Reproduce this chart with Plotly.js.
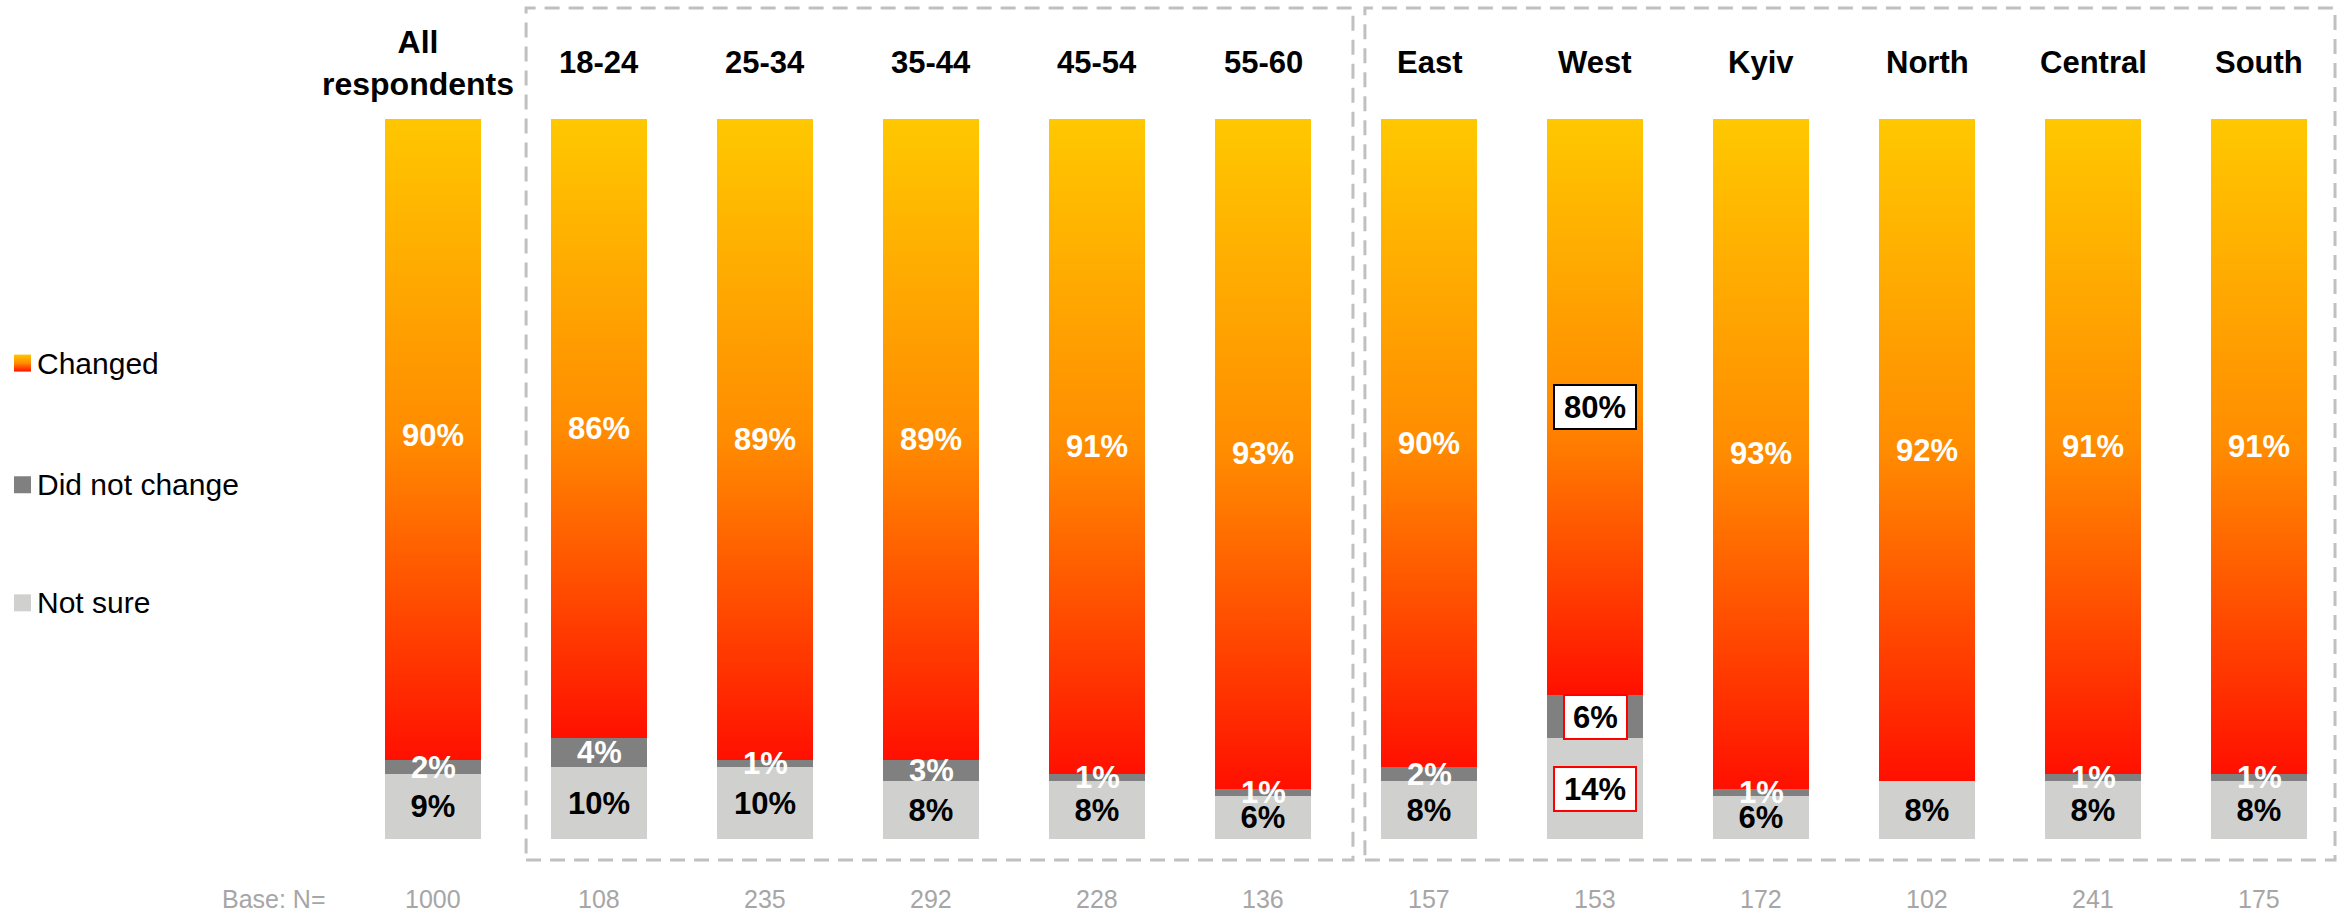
<!DOCTYPE html>
<html>
<head>
<meta charset="utf-8">
<script src="https://cdn.plot.ly/plotly-3.0.1.min.js"></script>
<style>
  html, body { margin: 0; padding: 0; background: #fff; }
  #chart { width: 2351px; height: 914px; }
</style>
</head>
<body>
<div id="chart"></div>
<script>
// Values.
const groups = ['All respondents', '18-24', '25-34', '35-44', '45-54', '55-60',
                'East', 'West', 'Kyiv', 'North', 'Central', 'South'];
const headers = ['All<br>respondents', '18-24', '25-34', '35-44', '45-54', '55-60',
                 'East', 'West', 'Kyiv', 'North', 'Central', 'South'];
const changed = [90, 86, 89, 89, 91, 93, 90, 80, 93, 92, 91, 91];
const didNotChange = [2, 4, 1, 3, 1, 1, 2, 6, 1, 0, 1, 1];
const notSure = [9, 10, 10, 8, 8, 6, 8, 14, 6, 8, 8, 8];
const baseN = [1000, 108, 235, 292, 228, 136, 157, 153, 172, 102, 241, 175];
const highlighted = 'West';

const FONT = 'Liberation Sans, Arial, sans-serif';
const LBL = 31;
const COLORS = { 'Changed': '#ff8c00', 'Did not change': '#808080', 'Not sure': '#d0d1ce' };

function pct(v) { return v ? v + '%' : ''; }

// labels of the highlighted bar are drawn as boxed annotations instead
function barText(vals) {
  return vals.map((v, i) => groups[i] === highlighted ? '' : pct(v));
}

function barTrace(name, vals, textColor) {
  return {
    type: 'bar',
    name: name,
    x: groups,
    y: vals,
    marker: { color: COLORS[name], line: { width: 0 } },
    text: textColor ? barText(vals) : null,
    textposition: textColor ? 'inside' : 'none',
    insidetextanchor: 'middle',
    textangle: 0,
    constraintext: 'none',
    textfont: { family: FONT, size: LBL, color: textColor, weight: 'bold' },
    hoverinfo: 'skip',
    showlegend: false,
  };
}

const traces = [
  barTrace('Not sure', notSure, '#000'),
  barTrace('Did not change', didNotChange, null),
  barTrace('Changed', changed, '#fff'),
];

const annotations = [];
const shapes = [];

// legend drawn by hand so it can sit right at the left edge
['Changed', 'Did not change', 'Not sure'].forEach((name, k) => {
  const y = [0.661, 0.492, 0.328][k];
  shapes.push({
    type: 'rect', xref: 'paper', yref: 'paper',
    xsizemode: 'pixel', ysizemode: 'pixel',
    xanchor: -0.1644, yanchor: y, x0: -8.5, x1: 8.5, y0: -8.5, y1: 8.5,
    fillcolor: COLORS[name], line: { width: 0 },
  });
  annotations.push({
    x: -0.158, xref: 'paper', xanchor: 'left', y: y, yref: 'paper', yanchor: 'middle',
    text: name, showarrow: false,
    font: { family: FONT, size: 30, color: '#000' },
  });
});

// column headers
headers.forEach((h, i) => {
  const twoLines = h.indexOf('<br>') >= 0;
  annotations.push({
    x: groups[i], xref: 'x', y: 1.078, yref: 'paper', yanchor: 'middle',
    xshift: twoLines ? -15 : 0,
    text: h, showarrow: false,
    font: { family: FONT, size: twoLines ? 32 : LBL, color: '#000', weight: 'bold' },
  });
});

// base sizes
annotations.push({
  x: -0.011, xref: 'paper', xanchor: 'right', y: -0.083, yref: 'paper', yanchor: 'middle',
  text: 'Base: N=', showarrow: false,
  font: { family: FONT, size: 25, color: '#a6a6a6' },
});
baseN.forEach((n, i) => {
  annotations.push({
    x: groups[i], xref: 'x', xanchor: 'center', y: -0.083, yref: 'paper', yanchor: 'middle',
    text: String(n), showarrow: false,
    font: { family: FONT, size: 25, color: '#a6a6a6' },
  });
});

// "did not change" labels sit on top of everything, so annotations
didNotChange.forEach((v, i) => {
  if (!v || groups[i] === highlighted) return;
  annotations.push({
    x: groups[i], y: notSure[i] + v / 2, yanchor: 'middle',
    text: pct(v), showarrow: false,
    font: { family: FONT, size: LBL, color: '#fff', weight: 'bold' },
  });
});

// boxed labels for the highlighted bar
const hi = groups.indexOf(highlighted);
[
  [notSure[hi] / 2, notSure[hi], '#ff0000', 78],
  [notSure[hi] + didNotChange[hi] / 2, didNotChange[hi], '#ff0000', 59],
  [notSure[hi] + didNotChange[hi] + changed[hi] / 2, changed[hi], '#000000', 78],
].forEach(([y, v, border, w]) => {
  annotations.push({
    x: highlighted, y: y, yanchor: 'middle',
    text: pct(v), showarrow: false,
    bgcolor: '#fff', bordercolor: border, borderwidth: 2, borderpad: 1,
    width: w, height: 40,
    font: { family: FONT, size: LBL, color: '#000', weight: 'bold' },
  });
});

// dashed group frames
const dashed = { color: '#c0c0c0', width: 3, dash: '15px,9px' };
shapes.push(
  { type: 'rect', xref: 'paper', yref: 'paper', x0: 0.0884, x1: 0.5035, y0: -0.029, y1: 1.154, line: dashed },
  { type: 'rect', xref: 'paper', yref: 'paper', x0: 0.5095, x1: 0.9965, y0: -0.029, y1: 1.154, line: dashed }
);

const layout = {
  width: 2351,
  height: 914,
  margin: { l: 350, r: 9, t: 119, b: 75 },
  paper_bgcolor: '#fff',
  plot_bgcolor: '#fff',
  barmode: 'stack',
  bargap: 0.422,
  hovermode: false,
  showlegend: false,
  font: { family: FONT },
  xaxis: {
    type: 'category', range: [-0.5, groups.length - 0.5], autorange: false,
    showticklabels: false, showgrid: false, zeroline: false, showline: false, ticks: '',
  },
  yaxis: { range: [0, 100], autorange: false, visible: false, showgrid: false, zeroline: false },
  annotations: annotations,
  shapes: shapes,
};

// Plotly bars have no gradient fill, so add one to the svg afterwards.
function applyGradient(gd) {
  const ns = 'http://www.w3.org/2000/svg';
  const defs = gd.querySelector('.main-svg defs');
  const grad = document.createElementNS(ns, 'linearGradient');
  grad.setAttribute('id', 'chgGrad');
  grad.setAttribute('x1', '0'); grad.setAttribute('y1', '0');
  grad.setAttribute('x2', '0'); grad.setAttribute('y2', '1');
  [['0', '#ffc800'], ['0.5', '#ff8c00'], ['1', '#ff1000']].forEach(([o, c]) => {
    const s = document.createElementNS(ns, 'stop');
    s.setAttribute('offset', o);
    s.setAttribute('stop-color', c);
    grad.appendChild(s);
  });
  defs.appendChild(grad);

  const barGroups = gd.querySelectorAll('.barlayer .trace');
  barGroups[2].querySelectorAll('.point path').forEach((p) => {
    p.style.fill = 'url(#chgGrad)';
  });

  // first shape is the "Changed" legend swatch
  const swatch = gd.querySelector('.shapelayer path[data-index="0"]');
  if (swatch) swatch.style.fill = 'url(#chgGrad)';
}

const gd = document.getElementById('chart');
Plotly.newPlot(gd, traces, layout, { displayModeBar: false, staticPlot: true })
  .then(() => applyGradient(gd));
</script>
</body>
</html>
